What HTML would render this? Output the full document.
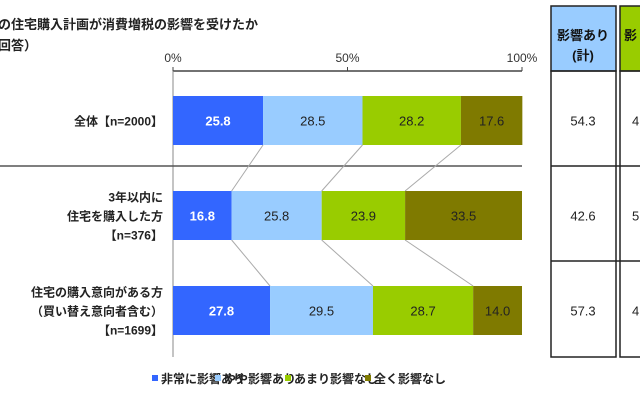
<!DOCTYPE html>
<html><head><meta charset="utf-8"><style>
body{margin:0;width:640px;height:400px;background:#fff;overflow:hidden;font-family:"Liberation Sans","Noto Sans CJK JP",sans-serif;}
svg text{font-family:"Liberation Sans","Noto Sans CJK JP",sans-serif;}
</style></head><body>
<svg width="640" height="400">
<g id="static">
<text x="-2" y="29" font-size="13" font-weight="bold" fill="#222">の住宅購入計画が消費増税の影響を受けたか</text>
<text x="-2" y="50" font-size="13" font-weight="bold" fill="#222">回答）</text>
<rect x="551" y="6" width="65" height="65" fill="#99ccff" stroke="#222" stroke-width="1.5"/>
<text x="583" y="40" font-size="13" font-weight="bold" text-anchor="middle" fill="#111">影響あり</text>
<text x="583" y="60" font-size="13" font-weight="bold" text-anchor="middle" fill="#111">(計)</text>
<rect x="620" y="6" width="30" height="65" fill="#99cc00" stroke="#222" stroke-width="1.5"/>
<text x="624" y="40" font-size="13" font-weight="bold" fill="#111">影</text>
<rect x="551" y="71" width="65" height="286" fill="none" stroke="#222" stroke-width="1.5"/>
<rect x="620" y="71" width="30" height="286" fill="none" stroke="#222" stroke-width="1.5"/>
<line x1="551" y1="166" x2="640" y2="166" stroke="#222" stroke-width="1.5"/>
<line x1="551" y1="261" x2="640" y2="261" stroke="#222" stroke-width="1.5"/>
</g>
<g id="plot"></g>
</svg>
<script>
const categories=[["全体【n=2000】"],["3年以内に","住宅を購入した方","【n=376】"],["住宅の購入意向がある方","（買い替え意向者含む）","【n=1699】"]];
const seriesNames=["非常に影響あり","やや影響あり","あまり影響なし","全く影響なし"];
const s1=[25.8,16.8,27.8];
const s2=[28.5,25.8,29.5];
const s3=[28.2,23.9,28.7];
const s4=[17.6,33.5,14.0];
const totals=[54.3,42.6,57.3];
const otherCol=["4","5","4"];
const ticks=[0,50,100];
const colors=["#3366ff","#99ccff","#99cc00","#7f7a00"];
const textCol=["#fff","#222","#222","#222"];
const NS="http://www.w3.org/2000/svg";
const g=document.getElementById('plot');
const X0=173,X1=522,Y0=71,ROWH=95,BARH=49,BAR0=96;
const x=v=>X0+(X1-X0)*v/100;
const yRow=i=>BAR0+i*ROWH;
function mk(t,a){const e=document.createElementNS(NS,t);for(const k in a)e.setAttribute(k,a[k]);g.appendChild(e);return e;}
let e;
e=mk('line',{x1:X0,y1:Y0,x2:X1,y2:Y0,stroke:'#444','stroke-width':1.5});


e=mk('line',{x1:X0,y1:Y0,x2:X0,y2:357,stroke:'#888','stroke-width':1});


e=mk('line',{x1:0,y1:166,x2:X1,y2:166,stroke:'#555','stroke-width':1.5});


ticks.forEach(t=>{
 e=mk('line',{x1:x(t),y1:Y0-4,x2:x(t),y2:Y0,stroke:'#444'});
 
 
 e=mk('text',{x:x(t),y:Y0-9,'font-size':12,'text-anchor':'middle',fill:'#333'});
 e.textContent=t+'%';
 
 
});
const series=[s1,s2,s3,s4];
categories.forEach((c,i)=>{
 let cum=0;const y=yRow(i);
 series.forEach((s,j)=>{
  const v=s[i];
  e=mk('rect',{x:x(cum),y:y,width:x(cum+v)-x(cum),height:BARH,fill:colors[j]});
  
  
  e=mk('text',{x:(x(cum)+x(cum+v))/2,y:y+BARH/2+5,'font-size':13,'text-anchor':'middle',fill:textCol[j],'font-weight':j==0?'bold':'normal'});
  e.textContent=v.toFixed(1);
  
  
  if(i<categories.length-1&&j<3){
   let c2=0;for(let k=0;k<=j;k++)c2+=series[k][i+1];
   e=mk('line',{x1:x(cum+v),y1:y+BARH,x2:x(c2),y2:yRow(i+1),stroke:'#aaa','stroke-width':1});
   
   
  }
  cum+=v;
 });
 const n=c.length;
 c.forEach((ln,k)=>{
  e=mk('text',{x:163,y:y+BARH/2+5+(k-(n-1)/2)*19,'font-size':12,'text-anchor':'end',fill:'#222','font-weight':'bold'});
  e.textContent=ln;
  
  
 });
 e=mk('text',{x:583,y:y+BARH/2+5,'font-size':13,'text-anchor':'middle',fill:'#222'});
 e.textContent=totals[i].toFixed(1);
 
 
 e=mk('text',{x:632,y:y+BARH/2+5,'font-size':13,fill:'#222'});
 e.textContent=otherCol[i];
 
 
});
const lx=[152,215,285,365];
seriesNames.forEach((nm,j)=>{
 e=mk('rect',{x:lx[j],y:375,width:6,height:6,fill:colors[j]});
 
 
 e=mk('text',{x:lx[j]+9,y:383,'font-size':12,fill:'#222','font-weight':'bold'});
 e.textContent=nm;
 
 
});
</script>
</body></html>
